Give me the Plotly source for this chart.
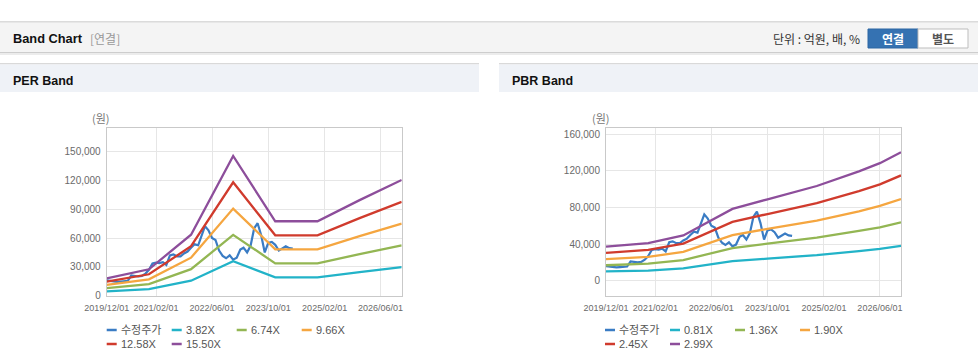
import plotly.graph_objects as go
import pandas as pd

W, H = 978, 364

# ---------------- data ----------------
price_name = "수정주가"
price_start = "2019-12-01"
price_values = [16000, 15500, 14800, 14500, 14800, 15000, 15500, 21000, 20500, 20000,
                20500, 23000, 27000, 33500, 34500, 34000, 35000, 32000, 42000, 43000,
                41000, 41000, 44000, 46000, 50000, 53500, 52500, 63000, 72500, 68000,
                60000, 58000, 47000, 41500, 39000, 42000, 37500, 39500, 48000, 50000,
                45000, 52000, 70000, 75500, 63000, 45000, 55000, 56000, 53000, 47000,
                49500, 51500, 49500, 49000]

per_dates = ["2019-12-01", "2020-12-01", "2021-12-01", "2022-12-01", "2023-12-01",
             "2024-12-01", "2025-12-01", "2026-12-01"]
per_names = ["3.82X", "6.74X", "9.66X", "12.58X", "15.50X"]
per_382 = [4400, 6800, 15600, 35900, 19100, 19100, 24500, 29700]
per_674 = [7800, 12000, 27600, 63300, 33700, 33700, 43300, 52400]
per_966 = [11200, 17100, 39600, 90700, 48300, 48300, 62000, 75100]
per_1258 = [14600, 22300, 51500, 118100, 62900, 62900, 80800, 97800]
per_1550 = [18000, 27500, 63500, 145500, 77500, 77500, 99500, 120500]

pbr_dates = ["2019-12-01", "2020-12-01", "2021-10-01", "2022-12-01", "2023-10-01",
             "2024-12-01", "2025-12-01", "2026-06-01", "2026-12-01"]
pbr_names = ["0.81X", "1.36X", "1.90X", "2.45X", "2.99X"]
pbr_081 = [10100, 11100, 13400, 21300, 24100, 28000, 32400, 34800, 38100]
pbr_136 = [16900, 18600, 22500, 35700, 40500, 47100, 54400, 58400, 63900]
pbr_190 = [23600, 26100, 31500, 49900, 56600, 65800, 75900, 81700, 89300]
pbr_245 = [30500, 33600, 40600, 64300, 72900, 84800, 97900, 105300, 115100]
pbr_299 = [37200, 41000, 49500, 78500, 89000, 103500, 119500, 128500, 140500]

x_tick_vals = ["2019-12-01", "2021-02-01", "2022-06-01", "2023-10-01", "2025-02-01", "2026-06-01"]
x_tick_text = ["2019/12/01", "2021/02/01", "2022/06/01", "2023/10/01", "2025/02/01", "2026/06/01"]
per_y_ticks = [0, 30000, 60000, 90000, 120000, 150000]
pbr_y_ticks = [0, 40000, 80000, 120000, 160000]

# ---------------- styles ----------------
price_color = "#3a7cc4"
band_colors = ["#22b3c8", "#93b653", "#f5a640", "#d03b2d", "#8d4e9b"]
LAT = "Liberation Sans, Arial, Noto Sans CJK KR, sans-serif"
KR = "Noto Sans CJK KR, Liberation Sans, sans-serif"
TICK_COLOR = "#6a6a6a"

price_dates = pd.date_range(price_start, periods=len(price_values), freq="MS")

fig = go.Figure()

def add_chart(xa, ya, dates, bands, names):
    fig.add_trace(go.Scatter(x=price_dates, y=price_values, mode="lines", name=price_name,
                             line=dict(color=price_color, width=2.2), xaxis=xa, yaxis=ya,
                             showlegend=False))
    for vals, nm, col in zip(bands, names, band_colors):
        fig.add_trace(go.Scatter(x=dates, y=vals, mode="lines", name=nm,
                                 line=dict(color=col, width=2.3), xaxis=xa, yaxis=ya,
                                 showlegend=False))

add_chart("x", "y", per_dates, [per_382, per_674, per_966, per_1258, per_1550], per_names)
add_chart("x2", "y2", pbr_dates, [pbr_081, pbr_136, pbr_190, pbr_245, pbr_299], pbr_names)

def px(x):
    return x / W

def py(y):
    return 1 - y / H

axis_common = dict(showgrid=True, gridcolor="#e6e6e6", gridwidth=1, showline=True, mirror=True,
                   linecolor="#c9c9c9", linewidth=1, zeroline=False, ticks="outside",
                   ticklen=3, tickcolor="rgba(0,0,0,0)", fixedrange=True, automargin=False)

top, bot = 128.3, 295.7
fig.update_layout(
    xaxis=dict(domain=[px(106.7), px(401.7)], anchor="y", type="date",
               range=["2019-12-01", "2026-12-01"], tickvals=x_tick_vals, ticktext=x_tick_text,
               tickfont=dict(family=LAT, size=9, color=TICK_COLOR), **axis_common),
    yaxis=dict(domain=[py(bot), py(top)], anchor="x", range=[0, 174300], tickvals=per_y_ticks,
               tickformat=",d", tickfont=dict(family=LAT, size=10, color=TICK_COLOR), **axis_common),
    xaxis2=dict(domain=[px(606), px(901)], anchor="y2", type="date",
                range=["2019-12-01", "2026-12-01"], tickvals=x_tick_vals, ticktext=x_tick_text,
                tickfont=dict(family=LAT, size=9, color=TICK_COLOR), **axis_common),
    yaxis2=dict(domain=[py(bot), py(top)], anchor="x2", range=[-16400, 166600], tickvals=pbr_y_ticks,
                tickformat=",d", tickfont=dict(family=LAT, size=10, color=TICK_COLOR), **axis_common),
)

shapes = []
def rect(x0, y0, x1, y1, fill, line=None, lw=0):
    shapes.append(dict(type="rect", xref="paper", yref="paper", x0=px(x0), x1=px(x1),
                       y0=py(y1), y1=py(y0), fillcolor=fill,
                       line=dict(color=line or fill, width=lw), layer="below"))

# header bar
rect(0, 21.5, 978, 22.5, "#b8b8b8")
rect(0, 22.5, 978, 52, "#f4f4f4")
rect(0, 52, 978, 53, "#cdcdcd")
rect(0, 53, 978, 55, "#ececec")
# section title bars
rect(0, 63, 479, 64.5, "#d9d9d9")
rect(0, 64.5, 479, 92, "#eff2f7")
rect(499, 63, 978, 64.5, "#d9d9d9")
rect(499, 64.5, 978, 92, "#eff2f7")
# buttons
rect(868, 29, 918, 48, "#3572b2", "#2d66a3", 1)
rect(918, 29, 968, 48, "#ffffff", "#bdbdbd", 1)

annotations = []
def text(x, y, s, size, color, family=KR, bold=False, anchor="left"):
    annotations.append(dict(xref="paper", yref="paper", x=px(x), y=py(y), text=f"<b>{s}</b>" if bold else s,
                            showarrow=False, xanchor=anchor, yanchor="middle",
                            font=dict(family=family, size=size, color=color)))

text(11, 38.5, "Band Chart", 12.8, "#111111", family=LAT, bold=True)
text(88, 38.5, "[연결]", 12, "#999999")
text(862, 38.5, "단위 : 억원, 배, %", 12, "#333333", anchor="right")
text(893, 38.5, "연결", 12, "#ffffff", bold=True, anchor="center")
text(943, 38.5, "별도", 12, "#555555", bold=True, anchor="center")
text(11, 80.5, "PER Band", 12.5, "#111111", family=LAT, bold=True)
text(510, 80.5, "PBR Band", 12.5, "#111111", family=LAT, bold=True)
text(101, 118, "(원)", 11, "#777777", anchor="center")
text(601, 118, "(원)", 11, "#777777", anchor="center")

# legends (manual, Highcharts-like layout)
def legend(x0, names):
    all_names = [price_name] + names
    all_cols = [price_color] + band_colors
    for i, (nm, col) in enumerate(zip(all_names, all_cols)):
        row, colidx = divmod(i, 4)
        lx = x0 + colidx * 65
        ly = 330 + row * 14
        shapes.append(dict(type="line", xref="paper", yref="paper", x0=px(lx), x1=px(lx + 10),
                           y0=py(ly), y1=py(ly), line=dict(color=col, width=2.5)))
        text(lx + 12, ly, nm, 11, "#555555", family=LAT)

legend(106.7, per_names)
legend(605, pbr_names)

fig.update_layout(width=W, height=H, margin=dict(l=0, r=0, t=0, b=0),
                  paper_bgcolor="#ffffff", plot_bgcolor="#ffffff", showlegend=False,
                  shapes=shapes, annotations=annotations)

fig.write_html("out.html", config={"displayModeBar": False},
               post_script="document.body.style.margin='0';")
